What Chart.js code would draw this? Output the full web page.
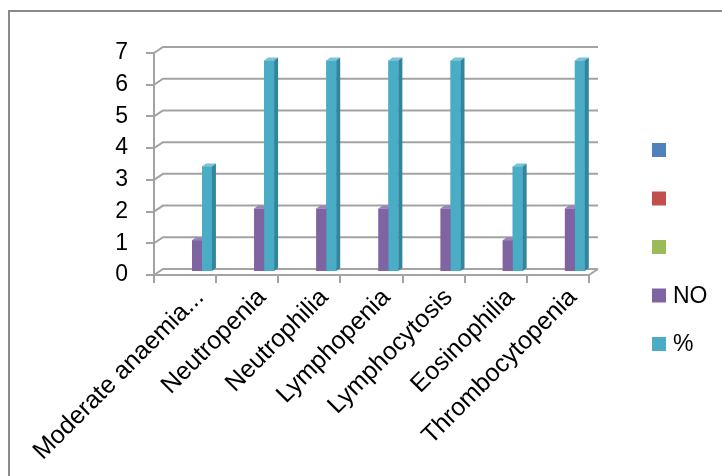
<!DOCTYPE html>
<html>
<head>
<meta charset="utf-8">
<script src="https://cdn.jsdelivr.net/npm/chart.js@4"></script>
<style>
  html, body { margin: 0; padding: 0; background: #ffffff; }
  #wrap { width: 722px; height: 476px; position: relative; }
</style>
</head>
<body>
<div id="wrap"><canvas id="c"></canvas></div>
<script>
// Findings per category
const categories = ['Moderate anaemia...', 'Neutropenia', 'Neutrophilia', 'Lymphopenia', 'Lymphocytosis', 'Eosinophilia', 'Thrombocytopenia'];
const seriesNames = ['', '', '', 'NO', '%'];
const countNO = [1, 2, 2, 2, 2, 1, 2];
const percent = [3.33, 6.67, 6.67, 6.67, 6.67, 3.33, 6.67];
const emptySeries = [null, null, null, null, null, null, null];
const yTicks = [0, 1, 2, 3, 4, 5, 6, 7];

const fills = ['#4F81BD', '#C0504D', '#9BBB59', '#8064A2', '#4BACC6'];
const sides = ['#3a6394', '#953b39', '#779043', '#5f4a7b', '#31859c'];
const tops  = ['#7097cc', '#d07572', '#b2cd7c', '#9a84b8', '#78c3d6'];

const FONT = '"Liberation Sans", Arial, sans-serif';
const GRID = '#a3a3a3';
const DEPTH = { dx: 9, dy: -6 };      // back wall offset
const BAR_DEPTH = { dx: 4, dy: -3 };  // column thickness
const BAR_SHIFT = { dx: 2, dy: -3 };  // columns sit mid-depth

const frame = {
  id: 'frame',
  beforeDraw(chart) {
    const ctx = chart.ctx;
    ctx.save();
    ctx.fillStyle = '#ffffff';
    ctx.fillRect(0, 0, chart.width, chart.height);
    ctx.strokeStyle = '#8a8a8a';
    ctx.lineWidth = 2;
    ctx.beginPath();
    ctx.moveTo(9, chart.height);
    ctx.lineTo(9, 11);
    ctx.lineTo(chart.width, 11);
    ctx.stroke();
    ctx.restore();
  }
};

// Back wall grid, left wall and floor edges
const wall = {
  id: 'wall',
  beforeDatasetsDraw(chart) {
    const ctx = chart.ctx;
    const y = chart.scales.y;
    const a = chart.chartArea;
    ctx.save();
    ctx.strokeStyle = GRID;
    ctx.lineWidth = 2;
    ctx.beginPath();
    yTicks.forEach(v => {
      const py = y.getPixelForValue(v);
      ctx.moveTo(a.left, py);
      ctx.lineTo(a.left + DEPTH.dx, py + DEPTH.dy);
      ctx.lineTo(a.right + DEPTH.dx, py + DEPTH.dy);
    });
    // right edge of the floor
    ctx.moveTo(a.right, a.bottom);
    ctx.lineTo(a.right + DEPTH.dx, a.bottom + DEPTH.dy);
    ctx.stroke();
    ctx.restore();
    ctx.save();
    ctx.translate(BAR_SHIFT.dx, BAR_SHIFT.dy);
  },
  afterDatasetsDraw(chart) {
    const ctx = chart.ctx;
    const n = chart.data.labels.length;
    for (let i = 0; i < n; i++) {
      chart.data.datasets.forEach((ds, di) => {
        const meta = chart.getDatasetMeta(di);
        const el = meta.data[i];
        if (!el || ds.data[i] == null) return;
        const p = el.getProps(['x', 'y', 'base', 'width'], true);
        const l = p.x - p.width / 2, r = p.x + p.width / 2;
        const t = p.y, b = p.base;
        const { dx, dy } = BAR_DEPTH;
        ctx.fillStyle = fills[di];
        ctx.fillRect(l, t, r - l, b - t);
        ctx.fillStyle = tops[di];
        ctx.beginPath();
        ctx.moveTo(l, t); ctx.lineTo(l + dx, t + dy); ctx.lineTo(r + dx, t + dy); ctx.lineTo(r, t);
        ctx.closePath(); ctx.fill();
        ctx.fillStyle = sides[di];
        ctx.beginPath();
        ctx.moveTo(r, t); ctx.lineTo(r + dx, t + dy); ctx.lineTo(r + dx, b + dy); ctx.lineTo(r, b);
        ctx.closePath(); ctx.fill();
      });
    }
    ctx.restore();
  }
};

// Legend at the right, one row per series
const sideLegend = {
  id: 'sideLegend',
  afterDraw(chart) {
    const ctx = chart.ctx;
    const x = 652, y0 = 150, step = 48.5, box = 14;
    ctx.save();
    ctx.font = '23px ' + FONT;
    ctx.textBaseline = 'middle';
    chart.data.datasets.forEach((ds, i) => {
      const cy = y0 + i * step;
      ctx.fillStyle = fills[i];
      ctx.fillRect(x, cy - box / 2, box, box);
      ctx.fillStyle = '#000';
      ctx.fillText(ds.label, x + box + 7, cy + 1);
    });
    ctx.restore();
  }
};

const datasets = seriesNames.map((name, i) => ({
  label: name,
  data: i === 3 ? countNO : i === 4 ? percent : emptySeries,
  backgroundColor: fills[i],
  borderWidth: 0,
  categoryPercentage: 0.8,
  barPercentage: 1.0
}));

new Chart(document.getElementById('c'), {
  type: 'bar',
  data: { labels: categories, datasets },
  plugins: [frame, wall, sideLegend],
  options: {
    responsive: true,
    maintainAspectRatio: false,
    animation: false,
    layout: { padding: { left: 0, top: 53, right: 133, bottom: 0 } },
    plugins: { legend: { display: false }, tooltip: { enabled: false } },
    scales: {
      x: {
        grid: { display: true, drawOnChartArea: false, offset: true, tickLength: 8, color: GRID, lineWidth: 2 },
        border: { display: true, color: GRID, width: 2 },
        ticks: { minRotation: 45, maxRotation: 45, autoSkip: false, padding: 0, labelOffset: 15, color: '#000', font: { family: FONT, size: 25 } },
        afterFit(s) { s.height = 201; }
      },
      y: {
        min: 0, max: 7,
        afterBuildTicks(s) { s.ticks = yTicks.map(v => ({ value: v })); },
        grid: { display: true, drawOnChartArea: false, tickLength: 8, color: GRID, lineWidth: 2 },
        border: { display: true, color: GRID, width: 2 },
        ticks: { padding: 18, color: '#000', font: { family: FONT, size: 23 } },
        afterFit(s) { s.width = 154; }
      }
    }
  }
});
</script>
</body>
</html>
